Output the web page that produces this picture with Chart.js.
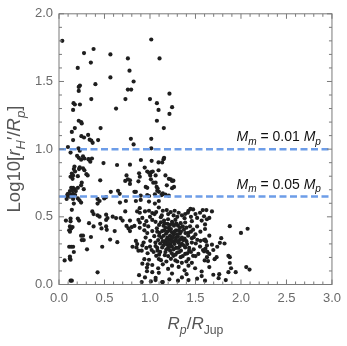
<!DOCTYPE html>
<html>
<head>
<meta charset="utf-8">
<script src="https://cdn.jsdelivr.net/npm/chart.js@4/dist/chart.umd.min.js"></script>
<style>
  html, body { margin: 0; padding: 0; background: #fff; }
  #wrap { width: 347px; height: 346px; }
</style>
</head>
<body>
<div id="wrap"><canvas id="chart" width="347" height="346"></canvas></div>
<script>
// planets: [R_p / R_Jup, log10(r_H' / R_p)]
const upperWing = [
  [0.036,1.80],[0.38,1.74],[0.275,1.71],[0.565,1.70],[0.35,1.64],[0.206,1.60],[0.565,1.53],[0.40,1.48],
  [0.23,1.47],[0.217,1.46],[0.217,1.43],[0.355,1.37],[0.16,1.34],[0.174,1.33],[0.23,1.33],[0.155,1.29],
  [0.627,1.30],[0.217,1.21],[0.243,1.20],[0.25,1.19],[0.174,1.156],[0.457,1.156],[0.141,1.127],[0.246,1.096],
  [0.275,1.086],[0.32,1.105],[0.155,1.067],[0.337,1.07],[0.355,1.064],[0.37,1.047],[0.43,1.067],[0.098,1.016],
  [0.214,1.006],[0.757,1.67],[0.775,1.58],[0.82,1.50],[0.757,1.44],[0.793,1.44],[0.73,1.37],[0.79,1.076],
  [0.82,1.035],[1.014,1.81],[1.105,1.67],[1.0,1.37],[1.214,1.41],[1.076,1.34],[1.243,1.31],[1.094,1.29],
  [1.214,1.26],[1.076,1.21],[1.152,1.156],[1.014,1.076],[1.014,1.006]
];

const leftColumn = [
  [0.228,0.989],[0.127,0.975],[0.199,0.951],[0.217,0.936],[0.243,0.922],[0.264,0.946],[0.279,0.931],[0.33,0.922],
  [0.344,0.907],[0.323,0.926],[0.362,0.931],[0.489,0.897],[0.638,0.883],[0.78,0.885],[0.17,0.871],[0.163,0.853],
  [0.177,0.835],[0.228,0.866],[0.22,0.853],[0.264,0.859],[0.279,0.844],[0.141,0.82],[0.155,0.806],[0.127,0.796],
  [0.149,0.781],[0.301,0.815],[0.315,0.806],[0.207,0.80],[0.453,0.77],[0.742,0.806],[0.757,0.777],[0.78,0.77],
  [0.78,0.743],[0.728,0.765],[0.88,0.822],[0.888,0.796],[0.873,0.762],[0.25,0.752],[0.243,0.733],[0.134,0.714],
  [0.155,0.714],[0.17,0.704],[0.12,0.69],[0.149,0.697],[0.185,0.69],[0.207,0.714],[0.272,0.704],[0.098,0.67],
  [0.134,0.665],[0.155,0.67],[0.177,0.661],[0.12,0.649],[0.09,0.661],[0.084,0.632],[0.207,0.636],[0.225,0.622],
  [0.243,0.605],[0.155,0.632],[0.163,0.598],[0.424,0.632],[0.446,0.617],[0.424,0.598],[0.569,0.685],[0.649,0.692],
  [0.667,0.67],[0.497,0.636],[0.518,0.646],[0.67,0.605],[0.735,0.617],[0.845,0.617],[0.829,0.685],[0.141,0.552],
  [0.076,0.472],[0.127,0.487],[0.127,0.467],[0.207,0.487],[0.22,0.472],[0.366,0.54],[0.38,0.52],[0.33,0.453],
  [0.424,0.511],[0.446,0.501],[0.518,0.516],[0.533,0.491],[0.518,0.477],[0.453,0.448],[0.59,0.501],[0.627,0.491],
  [0.677,0.491],[0.699,0.472],[0.728,0.54],[0.859,0.54],[0.888,0.53],[0.873,0.477],[0.888,0.458],[0.78,0.472],
  [0.742,0.433],[0.764,0.414],[0.78,0.395],[0.80,0.424],[0.829,0.433],[0.12,0.429],[0.149,0.424],[0.134,0.414],
  [0.112,0.40],[0.12,0.39],[0.38,0.429],[0.518,0.429],[0.525,0.404],[0.467,0.414],[0.612,0.395],[0.243,0.361],
  [0.264,0.361],[0.25,0.328],[0.272,0.328],[0.351,0.351],[0.562,0.332],[0.641,0.313],[0.845,0.322],[0.859,0.299],
  [0.112,0.279],[0.134,0.279],[0.155,0.279],[0.163,0.24],[0.308,0.26],[0.475,0.279],[0.808,0.279],[0.851,0.274],
  [0.873,0.25],[0.062,0.178],[0.12,0.192],[0.127,0.183],[0.12,0.207],[0.424,0.09],[0.127,0.028],[0.141,0.028],
  [0.88,0.069]
];

const midBand = [
  [0.90,0.92],[1.018,0.914],[1.094,0.902],[1.134,0.902],[1.149,0.926],[1.155,0.936],[0.942,0.864],[0.97,0.835],
  [0.99,0.825],[1.014,0.83],[1.03,0.835],[1.094,0.844],[1.003,0.806],[1.062,0.806],[1.01,0.777],[1.17,0.806],
  [1.207,0.781],[1.243,0.765],[1.036,0.752],[1.062,0.752],[0.953,0.721],[0.97,0.714],[1.073,0.721],[1.084,0.709],
  [1.185,0.733],[1.264,0.721],[1.243,0.712],[0.845,0.685],[1.08,0.692],[1.098,0.685],[1.134,0.665],[1.17,0.665],
  [1.207,0.656],[0.97,0.661],[0.99,0.654],[1.228,0.777],[1.257,0.767]
];

const mainCluster = [
  [0.898,0.656],[1.054,0.666],[1.126,0.661],[1.141,0.673],[0.898,0.625],[0.989,0.613],[1.054,0.598],[1.097,0.617],
  [0.887,0.564],[0.945,0.540],[0.989,0.545],[1.025,0.528],[1.068,0.535],[1.097,0.569],[1.141,0.545],[1.184,0.550],
  [1.228,0.535],[1.271,0.545],[1.315,0.530],[1.351,0.511],[1.387,0.521],[1.423,0.545],[1.445,0.559],[1.474,0.555],
  [1.416,0.530],[0.916,0.492],[0.960,0.468],[1.025,0.477],[1.061,0.463],[1.119,0.497],[1.155,0.472],[1.199,0.482],
  [1.242,0.463],[1.279,0.477],[1.337,0.453],[1.387,0.458],[1.460,0.468],[1.518,0.492],[1.568,0.472],[1.605,0.444],
  [1.626,0.482],[0.887,0.419],[0.938,0.400],[0.981,0.429],[1.025,0.395],[1.076,0.415],[1.105,0.381],[1.155,0.400],
  [1.206,0.419],[1.242,0.386],[1.286,0.400],[1.329,0.376],[1.373,0.405],[1.423,0.381],[1.474,0.405],[1.518,0.429],
  [1.554,0.390],[1.605,0.410],[0.952,0.347],[1.003,0.323],[1.047,0.357],[1.090,0.328],[1.126,0.347],[1.170,0.318],
  [1.213,0.332],[1.228,0.299],[1.257,0.318],[1.286,0.347],[1.315,0.308],[1.365,0.328],[1.409,0.299],[1.460,0.342],
  [1.503,0.303],[1.554,0.323],[1.605,0.332],[1.626,0.289],[0.916,0.289],[1.061,0.284],[1.134,0.274],[1.192,0.294],
  [0.909,0.250],[0.974,0.231],[1.018,0.255],[1.068,0.212],[1.112,0.241],[1.163,0.217],[1.221,0.250],[1.257,0.212],
  [1.300,0.236],[1.337,0.202],[1.387,0.226],[1.431,0.250],[1.474,0.212],[1.532,0.226],[1.583,0.255],[1.626,0.202],
  [0.989,0.183],[1.097,0.188],[1.279,0.178],[1.423,0.188],[0.916,0.154],[0.967,0.125],[1.025,0.144],[1.090,0.120],
  [1.141,0.149],[1.199,0.115],[1.242,0.139],[1.315,0.130],[1.380,0.105],[1.423,0.139],[1.496,0.120],[1.568,0.096],
  [1.097,0.086],[1.242,0.081],[1.402,0.076],[0.945,0.052],[1.010,0.023],[1.061,0.033],[1.141,0.018],[1.213,0.038],
  [1.308,0.028],[1.351,0.052],[1.423,0.033],[1.518,0.043],[1.605,0.028],[1.025,0.091],[1.568,0.062],
  [1.134,0.395],[1.177,0.376],[1.221,0.361],[1.264,0.371],[1.308,0.352],[1.192,0.347],[1.235,0.342],[1.279,0.328],
  [1.163,0.303],[1.199,0.270],[1.242,0.279],[1.286,0.270],[1.329,0.284],[1.148,0.434],[1.192,0.448],[1.308,0.434],
  [1.351,0.347],[1.112,0.303],[1.387,0.274],[1.083,0.250],[1.315,0.400],[1.170,0.419],[1.213,0.400],[1.264,0.434],
  [0.938,0.187],[0.975,0.149],[0.967,0.098],[0.909,0.018],[1.062,0.049],[1.134,0.018]
];

// the near-solid core of the cluster
const clusterCore = [
  [1.10,0.44],[1.12,0.46],[1.16,0.45],[1.22,0.44],[1.25,0.45],[1.29,0.45],[1.33,0.42],[1.36,0.43],[1.40,0.42],[1.44,0.43],
  [1.08,0.39],[1.19,0.39],[1.23,0.41],[1.27,0.39],[1.34,0.39],[1.39,0.38],[1.45,0.39],[1.50,0.37],
  [1.10,0.36],[1.15,0.36],[1.18,0.33],[1.25,0.35],[1.30,0.37],[1.33,0.33],[1.38,0.34],[1.42,0.36],[1.48,0.35],
  [1.06,0.31],[1.14,0.32],[1.20,0.31],[1.24,0.32],[1.27,0.30],[1.30,0.32],[1.35,0.30],[1.40,0.32],[1.46,0.31],[1.52,0.33],
  [1.08,0.27],[1.15,0.29],[1.18,0.26],[1.22,0.28],[1.26,0.26],[1.31,0.27],[1.34,0.25],[1.37,0.29],[1.43,0.27],[1.48,0.26],[1.55,0.28],
  [1.10,0.22],[1.17,0.24],[1.20,0.21],[1.24,0.23],[1.28,0.22],[1.32,0.24],[1.36,0.21],[1.41,0.23],[1.45,0.24],[1.50,0.21],
  [1.12,0.18],[1.18,0.17],[1.23,0.19],[1.30,0.17],[1.35,0.16],[1.40,0.17],[1.46,0.16],
  [1.00,0.50],[1.05,0.52],[1.13,0.51],[1.20,0.52],[1.26,0.51],[1.30,0.50],[1.38,0.49],[1.45,0.50],[1.50,0.52],[1.55,0.53],[1.58,0.55],[1.62,0.55],
  [0.94,0.44],[0.97,0.38],[0.93,0.31],[1.00,0.28],[1.04,0.24],[0.96,0.27]
];

const rightTail = [
  [1.681,0.540],[1.594,0.504],[1.652,0.492],[1.877,0.431],[2.073,0.412],[2.0,0.381],[1.652,0.361],[1.783,0.342],
  [1.594,0.328],[1.616,0.318],[1.768,0.308],[1.819,0.303],[1.681,0.294],[1.739,0.279],[1.609,0.265],[1.696,0.255],
  [1.594,0.245],[1.630,0.241],[1.652,0.226],[1.732,0.202],[1.710,0.187],[1.862,0.212],[1.877,0.202],[1.601,0.178],
  [1.638,0.173],[1.877,0.159],[2.058,0.129],[2.094,0.110],[1.652,0.129],[1.891,0.120],[1.862,0.091],[1.942,0.091],
  [1.696,0.072],[1.761,0.076],[1.754,0.047],[1.833,0.033]
];

// Hill-radius reference levels and their labels
const hillLevels = [1.0, 0.65];
const hillLabels = [
  [{ t: 'M', it: true }, { t: 'm', it: true, sub: true }, { t: ' = 0.01 ' }, { t: 'M', it: true }, { t: 'p', it: true, sub: true }],
  [{ t: 'M', it: true }, { t: 'm', it: true, sub: true }, { t: ' = 0.05 ' }, { t: 'M', it: true }, { t: 'p', it: true, sub: true }]
];

const xTitle = [{ t: 'R', it: true }, { t: 'p', it: true, sub: true }, { t: '/' }, { t: 'R', it: true }, { t: 'Jup', sub: true }];
const yTitle = [{ t: 'Log10[' }, { t: 'r', it: true }, { t: 'H', it: true, sub: true }, { t: '\u2032/' }, { t: 'R', it: true }, { t: 'p', it: true, sub: true }, { t: ']' }];

const FONT = '"Liberation Sans", Arial, sans-serif';
const AXIS_GREY = '#7a7a7a';
const TEXT_GREY = '#6a6a6a';

function toPoints(arr) {
  return arr.map(function (p) { return { x: p[0], y: p[1] }; });
}

// text pieces with italic / subscript runs, anchored left at x on baseline y
function richWidth(ctx, parts, size) {
  var w = 0;
  parts.forEach(function (p) {
    var s = p.sub ? size * 0.72 : size;
    ctx.font = (p.it ? 'italic ' : '') + s + 'px ' + FONT;
    w += ctx.measureText(p.t).width;
  });
  return w;
}
function richDraw(ctx, parts, size, x, y) {
  parts.forEach(function (p) {
    var s = p.sub ? size * 0.72 : size;
    ctx.font = (p.it ? 'italic ' : '') + s + 'px ' + FONT;
    ctx.fillText(p.t, x, p.sub ? y + size * 0.28 : y);
    x += ctx.measureText(p.t).width;
  });
}

const framePlugin = {
  id: 'frame',
  afterDatasetsDraw: function (chart) {
    var ctx = chart.ctx, a = chart.chartArea;
    var xs = chart.scales.x, ys = chart.scales.y;
    ctx.save();
    ctx.strokeStyle = AXIS_GREY;
    ctx.lineWidth = 1;
    ctx.strokeRect(a.left, a.top, a.right - a.left, a.bottom - a.top);

    // inward ticks, every 0.1, longer on the labelled 0.5 steps
    ctx.beginPath();
    for (var i = 0; i <= 30; i++) {
      var px = xs.getPixelForValue(i / 10);
      var len = i % 5 === 0 ? 5 : 3;
      ctx.moveTo(px, a.bottom); ctx.lineTo(px, a.bottom - len);
      ctx.moveTo(px, a.top); ctx.lineTo(px, a.top + len);
    }
    for (var j = 0; j <= 20; j++) {
      var py = ys.getPixelForValue(j / 10);
      var l2 = j % 5 === 0 ? 5 : 3;
      ctx.moveTo(a.left, py); ctx.lineTo(a.left + l2, py);
      ctx.moveTo(a.right, py); ctx.lineTo(a.right - l2, py);
    }
    ctx.stroke();

    // level labels above the dashed lines
    ctx.fillStyle = '#111';
    ctx.textBaseline = 'alphabetic';
    hillLevels.forEach(function (lvl, k) {
      var w = richWidth(ctx, hillLabels[k], 14);
      richDraw(ctx, hillLabels[k], 14, a.right - 11 - w, ys.getPixelForValue(lvl) - 8);
    });

    // axis titles
    ctx.fillStyle = '#555';
    var wx = richWidth(ctx, xTitle, 17);
    richDraw(ctx, xTitle, 17, (a.left + a.right) / 2 - wx / 2, 329);

    var wy = richWidth(ctx, yTitle, 18.5);
    ctx.translate(20, 159);
    ctx.rotate(-Math.PI / 2);
    richDraw(ctx, yTitle, 18.5, -wy / 2, 0);
    ctx.restore();
  }
};

new Chart(document.getElementById('chart'), {
  type: 'scatter',
  data: {
    datasets: [
      {
        data: toPoints(upperWing.concat(leftColumn, midBand, mainCluster, clusterCore, rightTail)),
        backgroundColor: '#1e1e1e',
        borderWidth: 0,
        pointRadius: 2.1,
        order: 2
      }
    ].concat(hillLevels.map(function (lvl) {
      return {
        type: 'line',
        data: [{ x: 0, y: lvl }, { x: 3, y: lvl }],
        borderColor: '#6d9de8',
        borderWidth: 2.5,
        borderDash: [7, 3.5],
        pointRadius: 0,
        fill: false,
        order: 1
      };
    }))
  },
  options: {
    responsive: false,
    animation: false,
    events: [],
    layout: { padding: { top: 8.5, right: 11, left: 0, bottom: 0 } },
    plugins: { legend: { display: false }, tooltip: { enabled: false } },
    scales: {
      x: {
        type: 'linear', min: 0, max: 3,
        grid: { display: false, drawTicks: false },
        border: { display: false },
        ticks: {
          stepSize: 0.5, padding: 6, color: TEXT_GREY,
          font: { family: FONT, size: 13 },
          callback: function (v) { return v.toFixed(1); }
        },
        afterFit: function (s) { s.height = 61.5; }
      },
      y: {
        type: 'linear', min: 0, max: 2,
        grid: { display: false, drawTicks: false },
        border: { display: false },
        ticks: {
          stepSize: 0.5, padding: 6, color: TEXT_GREY,
          font: { family: FONT, size: 13 },
          callback: function (v) { return v.toFixed(1); }
        },
        afterFit: function (s) { s.width = 59; }
      }
    }
  },
  plugins: [framePlugin]
});
</script>
</body>
</html>
